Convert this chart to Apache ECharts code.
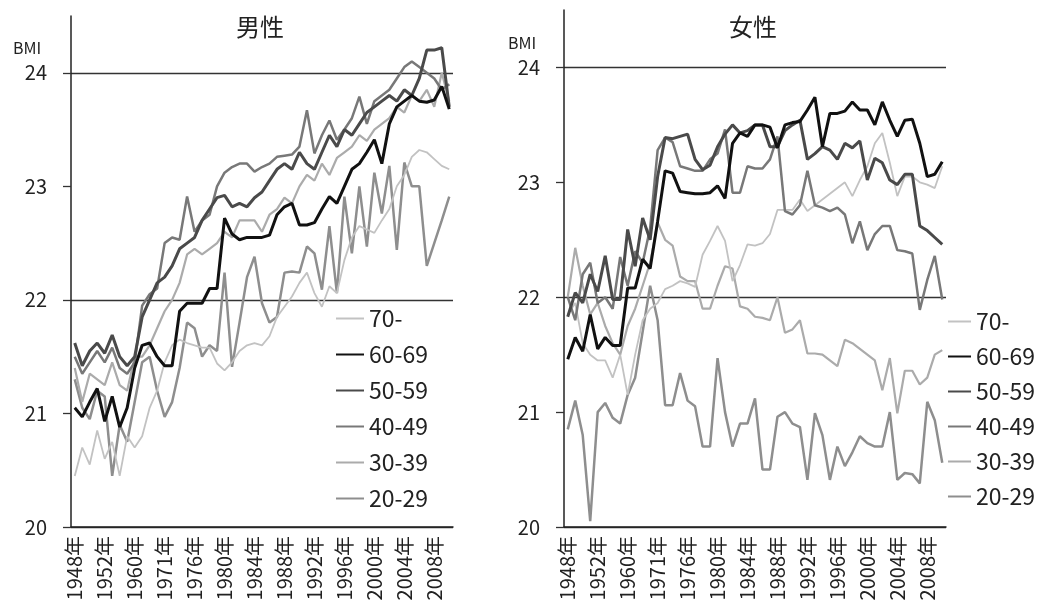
<!DOCTYPE html>
<html><head><meta charset="utf-8">
<script src="https://cdn.jsdelivr.net/npm/echarts@6/dist/echarts.min.js"></script>
<style>html,body{margin:0;padding:0;background:#fff}#c{width:1047px;height:610px}</style>
</head><body><div id="c"></div>
<script>
const categories = ['1948年','1949年','1950年','1951年','1952年','1954年','1956年','1958年','1960年','1963年','1966年','1969年','1971年','1972年','1973年','1975年',
'1976年','1977年','1978年','1979年','1980年','1981年','1982年','1983年','1984年','1985年','1986年','1987年','1988年','1989年','1990年','1991年','1992年','1993年','1994年','1995年',
'1996年','1997年','1998年','1999年','2000年','2001年','2002年','2003年','2004年','2005年','2006年','2007年','2008年','2009年','2010年'];
const yTickValues = [20,21,22,23,24];
const seriesNames = ['70-','60-69','50-59','40-49','30-39','20-29'];

// 男性
const male70 = [20.45,20.7,20.55,20.85,20.6,20.75,20.45,20.8,20.7,20.8,21.05,21.2,21.45,21.6,21.65,21.62,21.6,21.58,21.58,21.44,21.38,21.45,21.55,21.6,21.62,21.6,21.68,21.85,21.94,22.03,22.15,22.24,22.06,21.94,22.12,22.06,22.35,22.55,22.65,22.62,22.59,22.7,22.8,23.0,23.1,23.26,23.32,23.3,23.24,23.18,23.15];
const male60 = [21.05,20.97,21.1,21.22,20.93,21.15,20.88,21.05,21.4,21.6,21.62,21.5,21.42,21.42,21.9,21.97,21.97,21.97,22.1,22.1,22.72,22.58,22.53,22.55,22.55,22.55,22.57,22.75,22.82,22.85,22.66,22.66,22.68,22.8,22.91,22.85,23.0,23.15,23.2,23.3,23.41,23.2,23.55,23.7,23.75,23.8,23.75,23.74,23.76,23.88,23.68];
const male50 = [21.62,21.42,21.55,21.62,21.53,21.69,21.5,21.42,21.5,21.85,22.0,22.15,22.2,22.3,22.45,22.5,22.55,22.7,22.8,22.9,22.92,22.82,22.85,22.82,22.9,22.95,23.05,23.15,23.2,23.15,23.3,23.2,23.15,23.3,23.45,23.35,23.5,23.45,23.55,23.65,23.7,23.75,23.8,23.75,23.85,23.8,23.95,24.2,24.2,24.22,23.7];
const male40 = [21.5,21.35,21.45,21.55,21.45,21.58,21.4,21.35,21.45,21.95,22.05,22.1,22.5,22.55,22.53,22.91,22.6,22.7,22.75,23.0,23.12,23.17,23.2,23.2,23.13,23.17,23.2,23.26,23.27,23.28,23.35,23.67,23.29,23.45,23.58,23.41,23.5,23.6,23.79,23.55,23.75,23.8,23.85,23.95,24.05,24.1,24.05,24.0,23.95,23.85,23.9];
const male30 = [21.4,21.1,21.35,21.3,21.25,21.45,21.25,21.2,21.5,21.5,21.6,21.75,21.9,22.0,22.15,22.4,22.45,22.4,22.45,22.5,22.6,22.55,22.7,22.7,22.7,22.6,22.75,22.8,22.9,22.85,23.0,23.1,23.05,23.2,23.1,23.25,23.3,23.35,23.45,23.4,23.5,23.55,23.6,23.7,23.65,23.8,23.75,23.85,23.7,24.0,23.75];
const male20 = [21.3,21.05,20.95,21.2,21.15,20.45,20.9,20.75,21.1,21.45,21.5,21.2,20.97,21.1,21.4,21.8,21.75,21.5,21.6,21.55,22.24,21.41,21.8,22.2,22.38,21.97,21.8,21.85,22.24,22.25,22.24,22.47,22.41,22.09,22.65,22.06,22.91,22.41,23.0,22.47,23.12,22.76,23.18,22.44,23.21,23.0,23.0,22.3,22.5,22.7,22.91];

// 女性
const female70 = [21.85,21.95,21.6,21.5,21.45,21.45,21.3,21.5,21.15,21.5,21.8,21.9,21.95,22.07,22.1,22.14,22.12,22.09,22.37,22.49,22.62,22.49,22.14,22.28,22.46,22.45,22.47,22.55,22.76,22.76,22.76,22.85,22.75,22.8,22.85,22.9,22.95,23.0,22.88,23.02,23.14,23.34,23.43,23.17,22.88,23.05,23.05,23.0,22.98,22.95,23.14];
const female60 = [21.46,21.65,21.53,21.85,21.55,21.65,21.58,21.58,22.08,22.08,22.33,22.25,22.66,23.1,23.08,22.92,22.91,22.9,22.9,22.91,22.97,22.86,23.34,23.43,23.4,23.5,23.5,23.48,23.3,23.5,23.52,23.53,23.63,23.74,23.31,23.6,23.6,23.62,23.7,23.63,23.63,23.5,23.7,23.54,23.4,23.54,23.55,23.34,23.05,23.07,23.18];
const female50 = [21.83,22.04,21.95,22.2,22.05,22.36,21.98,21.98,22.59,22.27,22.69,22.5,23.05,23.39,23.38,23.4,23.42,23.2,23.11,23.15,23.31,23.42,23.5,23.43,23.45,23.5,23.5,23.31,23.31,23.45,23.5,23.54,23.2,23.25,23.31,23.28,23.2,23.34,23.3,23.36,23.02,23.21,23.17,23.02,22.98,23.07,23.07,22.62,22.58,22.52,22.46];
const female40 = [22.0,21.8,22.2,22.3,21.95,22.0,21.9,22.35,22.1,22.4,22.3,22.6,23.28,23.39,23.35,23.14,23.12,23.1,23.1,23.2,23.25,23.46,22.91,22.91,23.14,23.12,23.12,23.2,23.4,22.75,22.72,22.8,23.1,22.8,22.78,22.75,22.78,22.72,22.47,22.66,22.41,22.55,22.62,22.62,22.41,22.4,22.38,21.89,22.15,22.36,21.98];
const female30 = [22.0,22.43,22.1,21.85,21.95,21.75,21.6,21.5,21.75,21.9,22.1,22.3,22.65,22.5,22.45,22.18,22.14,22.14,21.9,21.9,22.1,22.27,22.25,21.92,21.9,21.83,21.82,21.8,22.0,21.69,21.72,21.8,21.51,21.51,21.5,21.45,21.4,21.63,21.6,21.55,21.5,21.45,21.19,21.47,20.99,21.36,21.36,21.24,21.3,21.5,21.54];
const female20 = [20.85,21.1,20.8,20.05,21.0,21.08,20.95,20.9,21.15,21.3,21.7,22.1,21.8,21.06,21.06,21.34,21.1,21.05,20.7,20.7,21.47,21.0,20.7,20.9,20.9,21.12,20.5,20.5,20.96,21.0,20.9,20.87,20.41,20.99,20.8,20.41,20.7,20.53,20.65,20.79,20.73,20.7,20.7,21.0,20.41,20.47,20.46,20.38,21.09,20.93,20.56];

const styles = {
  '70-':   {color:'#c2c2c2', width:1.8},
  '60-69': {color:'#111111', width:3},
  '50-59': {color:'#4a4a4a', width:3},
  '40-49': {color:'#787878', width:2.5},
  '30-39': {color:'#ababab', width:2.2},
  '20-29': {color:'#8e8e8e', width:2.5}
};
const FONT = '"Noto Sans CJK JP", "Noto Sans", sans-serif';

function mkSeries(name, data, idx) {
  const s = styles[name];
  return {
    name: name, type: 'line', data: data, xAxisIndex: idx, yAxisIndex: idx,
    symbol: 'none', showSymbol: false, animation: false,
    lineStyle: {color: s.color, width: s.width},
    itemStyle: {color: s.color}
  };
}
function mkX(idx) {
  return {
    type: 'category', gridIndex: idx, data: categories, boundaryGap: true,
    axisLine: {lineStyle: {color: '#222', width: 1.5}},
    axisTick: {interval: 0, alignWithLabel: true, length: 5, lineStyle: {color: '#333'}},
    axisLabel: {interval: 3, rotate: 90, fontSize: 20, margin: 9, color: '#222', fontFamily: FONT},
    splitLine: {show: false}
  };
}
function mkY(idx) {
  return {
    type: 'value', gridIndex: idx, min: 20, max: 24.5, interval: 0.5,
    axisLine: {show: true, lineStyle: {color: '#222', width: 1.5}},
    axisTick: {show: true, customValues: yTickValues, length: 8, lineStyle: {color: '#333', width: 1.3}},
    axisLabel: {customValues: yTickValues, fontSize: 20, margin: 24, color: '#222', fontFamily: FONT},
    splitLine: {show: true, lineStyle: {color: ['#333', 'rgba(0,0,0,0)'], width: 1.3}}
  };
}

const chart = echarts.init(document.getElementById('c'));
const drawOrder = [['20-29', male20, female20], ['30-39', male30, female30], ['70-', male70, female70],
                   ['40-49', male40, female40], ['50-59', male50, female50], ['60-69', male60, female60]];
const series = [];
drawOrder.forEach(d => { series.push(mkSeries(d[0], d[1], 0)); });
drawOrder.forEach(d => { series.push(mkSeries(d[0], d[2], 1)); });

const legendCommon = {
  orient: 'vertical', data: seriesNames, itemHeight: 14, padding: 0,
  selectedMode: false, itemStyle: {opacity: 0},
  textStyle: {fontSize: 23, color: '#222', fontFamily: FONT, lineHeight: 22}
};

chart.setOption({
  backgroundColor: '#fff',
  animation: false,
  textStyle: {fontFamily: FONT},
  title: [
    {text: '男性', left: 231, top: 10, textStyle: {fontSize: 24, fontWeight: 'normal', color: '#222', fontFamily: FONT}},
    {text: '女性', left: 724, top: 10, textStyle: {fontSize: 24, fontWeight: 'normal', color: '#222', fontFamily: FONT}},
    {text: 'BMI', left: 8, top: 35, textStyle: {fontSize: 16, fontWeight: 'normal', color: '#222', fontFamily: FONT}},
    {text: 'BMI', left: 503, top: 30, textStyle: {fontSize: 16, fontWeight: 'normal', color: '#222', fontFamily: FONT}}
  ],
  legend: [
    Object.assign({left: 335, top: 307, itemWidth: 28, itemGap: 13}, legendCommon),
    Object.assign({left: 947, top: 310, itemWidth: 23, itemGap: 12}, legendCommon)
  ],
  grid: [
    {left: 71, top: 16, width: 382, height: 511},
    {left: 564, top: 10, width: 382, height: 517}
  ],
  xAxis: [mkX(0), mkX(1)],
  yAxis: [mkY(0), mkY(1)],
  series: series
});
</script></body></html>
